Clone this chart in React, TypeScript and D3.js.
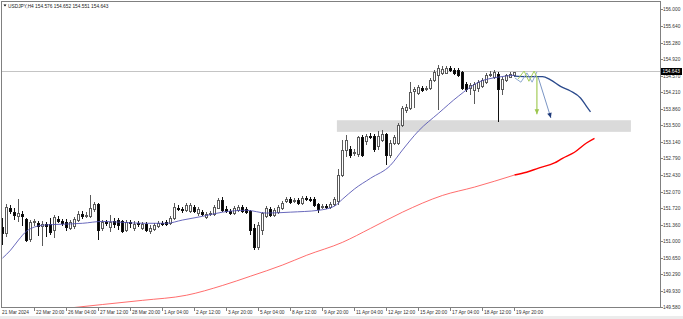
import React from "react";
import * as d3 from "d3";

const W = 683;
const H = 319;

const symbolTitle = "USDJPY,H4  154.576 154.652 154.551 154.643";

const opens = [151.31,151.18,151.71,151.63,151.54,151.59,151.48,151.05,151.41,151.39,
151.33,151.37,151.37,151.24,151.48,151.43,151.41,151.28,151.33,151.46,
151.59,151.54,151.54,151.69,151.80,151.28,151.41,151.31,151.43,151.46,
151.43,151.24,151.41,151.28,151.39,151.28,151.37,151.22,151.26,151.33,
151.39,151.41,151.39,151.50,151.71,151.69,151.67,151.65,151.74,151.61,
151.63,151.52,151.59,151.59,151.71,151.89,151.69,151.65,151.61,151.67,
151.74,151.69,151.65,151.28,150.87,151.24,151.54,151.69,151.56,151.63,
151.71,151.87,151.91,151.87,151.89,151.82,151.93,151.91,151.91,151.80,
151.74,151.76,151.74,151.80,151.87,152.43,152.97,152.99,152.90,152.88,
153.25,153.16,153.27,153.27,153.05,153.18,153.31,152.86,153.12,153.12,
153.50,153.83,153.87,154.24,154.19,154.30,154.28,154.30,154.48,154.58,
154.63,154.63,154.73,154.69,154.69,154.65,154.39,154.30,154.26,154.30,
154.35,154.43,154.58,154.54,154.60,154.28,154.48,154.54,154.576];

const highs = [151.50,151.80,151.78,151.71,151.91,151.65,151.50,151.46,151.48,151.43,
151.43,151.41,151.50,151.56,151.54,151.48,151.48,151.46,151.52,151.65,
151.65,151.63,152.00,151.84,151.82,151.46,151.46,151.56,151.50,151.50,
151.46,151.46,151.46,151.43,151.43,151.41,151.41,151.35,151.39,151.43,
151.43,151.46,151.54,151.82,151.78,151.74,151.82,151.82,151.78,151.74,
151.67,151.63,151.65,151.78,151.93,151.95,151.76,151.69,151.76,151.78,
151.78,151.74,151.67,151.37,151.41,151.63,151.76,151.74,151.71,151.78,
151.87,151.95,151.95,151.93,151.93,151.97,151.97,151.95,151.95,151.82,
151.80,151.80,151.84,151.95,152.56,153.18,153.29,153.05,152.99,153.27,
153.29,153.31,153.33,153.31,153.38,153.40,153.33,153.18,153.29,153.55,
153.91,153.96,154.43,154.32,154.37,154.35,154.35,154.52,154.69,154.80,
154.78,154.78,154.78,154.73,154.73,154.67,154.43,154.41,154.43,154.48,
154.52,154.63,154.67,154.69,154.65,154.54,154.60,154.65,154.652];

const lows = [150.92,151.09,151.59,151.46,151.41,151.33,150.98,150.98,151.33,151.11,
150.90,151.09,151.13,151.07,151.39,151.33,151.22,151.24,151.26,151.41,
151.48,151.50,151.50,151.63,151.03,151.22,151.33,151.20,151.28,151.24,
151.18,151.20,151.28,151.22,151.31,151.24,151.20,151.15,151.22,151.28,
151.33,151.33,151.35,151.46,151.65,151.61,151.63,151.61,151.61,151.54,
151.54,151.48,151.54,151.54,151.69,151.63,151.61,151.56,151.56,151.63,
151.61,151.59,151.13,150.81,150.81,151.13,151.50,151.52,151.52,151.59,
151.67,151.82,151.80,151.82,151.78,151.78,151.87,151.84,151.74,151.61,
151.69,151.69,151.69,151.76,151.78,152.38,152.81,152.79,152.84,152.81,
152.81,153.07,153.20,152.92,152.97,153.14,152.64,152.79,153.07,153.07,
153.46,153.76,153.83,153.87,154.15,154.22,154.24,154.26,154.43,153.83,
154.58,154.60,154.65,154.58,154.54,154.26,154.22,154.15,153.96,154.22,
154.30,154.39,154.54,154.50,153.57,154.15,154.43,154.52,154.551];

const closes = [151.18,151.74,151.65,151.56,151.61,151.54,151.03,151.41,151.43,151.33,
151.37,151.33,151.20,151.52,151.43,151.39,151.31,151.41,151.48,151.59,
151.54,151.56,151.71,151.80,151.24,151.41,151.39,151.41,151.37,151.35,
151.22,151.41,151.39,151.37,151.37,151.37,151.24,151.28,151.35,151.39,
151.37,151.37,151.50,151.74,151.69,151.67,151.78,151.78,151.65,151.69,
151.59,151.59,151.61,151.74,151.89,151.67,151.65,151.61,151.71,151.74,
151.65,151.63,151.24,150.87,151.35,151.61,151.71,151.56,151.67,151.74,
151.82,151.91,151.84,151.89,151.82,151.93,151.91,151.89,151.78,151.69,
151.76,151.74,151.80,151.91,152.43,152.97,153.18,152.86,152.92,153.25,
152.86,153.27,153.25,152.99,153.27,153.31,152.86,153.12,153.25,153.50,
153.87,153.89,154.22,154.28,154.32,154.26,154.30,154.48,154.65,154.73,
154.71,154.73,154.69,154.63,154.58,154.30,154.28,154.37,154.39,154.43,
154.48,154.58,154.60,154.65,154.28,154.50,154.58,154.60,154.643];

// fast moving average (bar index, value)
const fastMaBars = [0,2,4,6,8,10,15,20,25,30,35,41,45,50,55,61,66,72,79,83,85,88,92,97,100,104,109,114,119,124,128];
const fastMaValues = [150.64,150.81,151.03,151.22,151.31,151.35,151.37,151.39,151.43,151.41,151.39,151.39,151.46,151.54,151.63,151.67,151.61,151.63,151.67,151.76,151.91,152.13,152.36,152.64,152.97,153.38,153.76,154.13,154.43,154.54,154.58];

// slow moving average
const slowMaBars = [14,25,35,46,55,62,70,76,85,92,100,110,118,128];
const slowMaValues = [149.54,149.64,149.73,149.84,150.05,150.25,150.49,150.70,150.98,151.28,151.63,151.99,152.17,152.43];

// projections beyond last bar
const fastProjBars = [128,131,135,137,139.5,142,144.5,146,147];
const fastProjValues = [154.56,154.55,154.55,154.48,154.34,154.24,154.09,153.91,153.79];
const slowProjBars = [128,131,134,138,140,143,146,148];
const slowProjValues = [152.43,152.49,152.58,152.69,152.79,152.92,153.12,153.22];

// zigzag drawings
const greenZigBars = [128.9,130.4,131.6,132.9,133.6];
const greenZigValues = [154.50,154.67,154.45,154.67,154.54];
const blueZigBars = [128.1,129.6,131.1,132.4,133.6];
const blueZigValues = [154.52,154.43,154.63,154.43,154.65];

// arrows [fromBar, fromPrice, toBar, toPrice]
const greenArrow = [133.6, 154.54, 133.6, 153.74];
const blueArrow = [133.9, 154.54, 137.1, 153.66];

// support zone
const zoneBars = [83.6, 157.1];
const zonePrices = [153.36, 153.61];

const yTickValues = [156.0,155.64,155.28,154.92,154.57,154.21,153.86,153.5,153.14,152.79,152.43,152.07,151.72,151.36,151.0,150.65,150.29,149.93,149.58];
const yTickLabels = ["156.000","155.640","155.280","154.920","154.570","154.210","153.860","153.500","153.140","152.790","152.430","152.070","151.720","151.360","151.000","150.650","150.290","149.930","149.580"];

const xTickBars = [0,8,16,24,32,40,48,56,64,72,80,88,96,104,112,120,128];
const xTickLabels = ["21 Mar 2024","22 Mar 20:00","26 Mar 04:00","27 Mar 12:00","28 Mar 20:00","1 Apr 04:00","2 Apr 12:00","3 Apr 20:00","5 Apr 04:00","8 Apr 12:00","9 Apr 20:00","11 Apr 04:00","12 Apr 12:00","15 Apr 20:00","17 Apr 04:00","18 Apr 12:00","19 Apr 20:00"];

const FONT = "'Liberation Sans', Arial, sans-serif";

export default function App() {
  const x = d3.scaleLinear().domain([0, 1]).range([2.5, 6.5]);
  const y = d3.scaleLinear().domain([149.58, 156]).range([307.3, 9.3]);
  const plotR = 660.5;
  const plotB = 307.5;

  const line = d3
    .line<[number, number]>()
    .x((d) => x(d[0]))
    .y((d) => y(d[1]))
    .curve(d3.curveMonotoneX);
  const straight = d3
    .line<[number, number]>()
    .x((d) => x(d[0]))
    .y((d) => y(d[1]));

  const zip = (a: number[], b: number[]) => a.map((v, i) => [v, b[i]] as [number, number]);

  const last = closes[closes.length - 1];
  const lastY = Math.round(y(last)) - 0.5;

  const arrowHead = (a: number[], color: string) => {
    const x1 = x(a[0]), y1 = y(a[1]), x2 = x(a[2]), y2 = y(a[3]);
    const ang = Math.atan2(y2 - y1, x2 - x1);
    const len = 5, hw = 2.3;
    const bx = x2 - len * Math.cos(ang), by = y2 - len * Math.sin(ang);
    const px = -Math.sin(ang) * hw, py = Math.cos(ang) * hw;
    return (
      <polygon
        points={`${x2},${y2} ${bx + px},${by + py} ${bx - px},${by - py}`}
        fill={color}
      />
    );
  };

  return (
    <svg
      width={W}
      height={H}
      style={{ position: "absolute", left: 0, top: 0, background: "#fff" }}
    >
      <defs>
        <clipPath id="plot">
          <rect x={2} y={2} width={plotR - 2} height={plotB - 2} />
        </clipPath>
      </defs>
      <rect x={0} y={0} width={W} height={H} fill="#fff" />
      <rect x={0} y={316} width={W} height={3} fill="#ececec" />

      <g clipPath="url(#plot)">
        {/* support zone */}
        <rect
          x={x(zoneBars[0])}
          y={y(zonePrices[1])}
          width={x(zoneBars[1]) - x(zoneBars[0])}
          height={y(zonePrices[0]) - y(zonePrices[1])}
          fill="#dadada"
        />
        {/* last price line */}
        <line x1={2} x2={plotR} y1={lastY} y2={lastY} stroke="#c4c4c4" strokeWidth={1} />

        {/* candles */}
        {opens.map((o, i) => {
          const c = closes[i];
          const hi = highs[i];
          const lo = lows[i];
          const cx = x(i);
          const bull = c >= o;
          const top = Math.round(y(Math.max(o, c)));
          const bot = Math.round(y(Math.min(o, c)));
          const col = bull ? "#5a5a5a" : "#111";
          return (
            <g key={i} shapeRendering="crispEdges">
              <line x1={cx} x2={cx} y1={y(hi)} y2={y(lo)} stroke={col} strokeWidth={1} />
              <rect
                x={cx - 1}
                y={top + 0.5}
                width={2}
                height={Math.max(bot - top, 1)}
                fill={bull ? "#fff" : "#000"}
                stroke={col}
                strokeWidth={1}
              />
            </g>
          );
        })}

        {/* moving averages */}
        <path d={line(zip(slowMaBars, slowMaValues)) || ""} fill="none" stroke="#ff4848" strokeWidth={0.8} />
        <path d={line(zip(fastMaBars, fastMaValues)) || ""} fill="none" stroke="#4e4eb0" strokeWidth={0.85} />

        {/* projections */}
        <path d={line(zip(slowProjBars, slowProjValues)) || ""} fill="none" stroke="#ff0000" strokeWidth={1.4} />
        <path d={line(zip(fastProjBars, fastProjValues)) || ""} fill="none" stroke="#2b4a8c" strokeWidth={1.3} />

        {/* zigzags */}
        <path d={straight(zip(blueZigBars, blueZigValues)) || ""} fill="none" stroke="#8fa8d0" strokeWidth={1} />
        <path d={straight(zip(greenZigBars, greenZigValues)) || ""} fill="none" stroke="#a4cc5a" strokeWidth={1} />

        {/* arrows */}
        <line
          x1={x(blueArrow[0])} y1={y(blueArrow[1])}
          x2={x(blueArrow[2])} y2={y(blueArrow[3])}
          stroke="#7a95c4" strokeWidth={1}
        />
        {arrowHead(blueArrow, "#1f3a7a")}
        <line
          x1={x(greenArrow[0])} y1={y(greenArrow[1])}
          x2={x(greenArrow[2])} y2={y(greenArrow[3])}
          stroke="#a4cc5a" strokeWidth={1.2}
        />
        {arrowHead(greenArrow, "#9cc64e")}
      </g>

      {/* frame */}
      <rect
        x={1.5}
        y={1.5}
        width={plotR - 1.5}
        height={plotB - 1.5}
        fill="none"
        stroke="#808080"
        strokeWidth={1}
        shapeRendering="crispEdges"
      />

      {/* title */}
      <polygon points="3.5,4.5 6.5,4.5 5,6.5" fill="#000" />
      <text x={8} y={7.6} fontSize={4.8} fontFamily={FONT} fill="#222">
        {symbolTitle}
      </text>

      {/* y axis */}
      {yTickValues.map((v, i) => {
        const ty = Math.round(y(v)) + 0.5;
        return (
          <g key={"y" + i}>
            <line x1={plotR} x2={plotR + 2.5} y1={ty} y2={ty} stroke="#808080" shapeRendering="crispEdges" />
            <text x={663} y={ty + 1.7} fontSize={4.8} fontFamily={FONT} fill="#333">
              {yTickLabels[i]}
            </text>
          </g>
        );
      })}
      {/* current price label */}
      <rect x={661} y={lastY - 3.5} width={21} height={7} fill="#000" />
      <text x={662.5} y={lastY + 1.8} fontSize={4.8} fontFamily={FONT} fill="#fff">
        {last.toFixed(3)}
      </text>

      {/* x axis */}
      {xTickBars.map((b, i) => {
        const tx = x(b);
        return (
          <g key={"x" + i}>
            {i > 0 && (
              <line x1={tx} x2={tx} y1={plotB} y2={plotB + 3} stroke="#808080" shapeRendering="crispEdges" />
            )}
            <text x={i === 0 ? 2 : tx + 1.5} y={313.6} fontSize={4.8} fontFamily={FONT} fill="#333">
              {xTickLabels[i]}
            </text>
          </g>
        );
      })}
    </svg>
  );
}
